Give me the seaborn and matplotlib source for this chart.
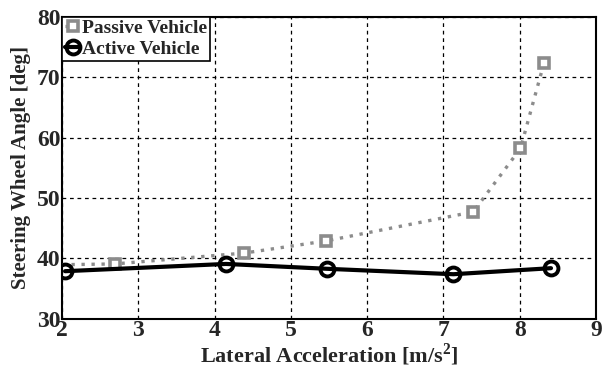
import matplotlib
matplotlib.use("Agg")
import matplotlib.pyplot as plt
import seaborn as sns
import pandas as pd

# Lateral acceleration [m/s^2] and steering wheel angle [deg]
passive_x = [1.6, 2.69, 4.39, 5.46, 7.39, 8.01, 8.32]
passive_y = [38.9, 39.1, 40.9, 42.9, 47.7, 58.2, 72.4]
active_x = [2.04, 4.15, 5.47, 7.13, 8.41]
active_y = [37.9, 39.1, 38.3, 37.4, 38.4]

x_ticks = [2, 3, 4, 5, 6, 7, 8, 9]
y_ticks = [30, 40, 50, 60, 70, 80]

sns.set_style("white")
plt.rcParams["font.family"] = ["Liberation Serif", "DejaVu Serif"]
plt.rcParams["font.weight"] = "bold"
plt.rcParams["mathtext.fontset"] = "custom"
plt.rcParams["mathtext.rm"] = "Liberation Serif:bold"

passive = pd.DataFrame({"x": passive_x, "y": passive_y})
active = pd.DataFrame({"x": active_x, "y": active_y})

fig = plt.figure(figsize=(6.06, 3.68), dpi=100)
ax = fig.add_axes([0.1023, 0.1332, 0.8812, 0.8218])

sns.lineplot(data=passive, x="x", y="y", ax=ax, color="#8c8c8c", linestyle=(0, (1, 2)),
             linewidth=2.4, marker="s", markersize=7, markerfacecolor="white",
             markeredgecolor="#8c8c8c", markeredgewidth=2.6, label="Passive Vehicle",
             sort=False, estimator=None, zorder=3)
sns.lineplot(data=active, x="x", y="y", ax=ax, color="black", linestyle="-",
             linewidth=3, marker="o", markersize=10, markerfacecolor="none",
             markeredgecolor="black", markeredgewidth=2.8, label="Active Vehicle",
             sort=False, estimator=None, zorder=4)

ax.set_xlim(2, 9)
ax.set_ylim(30, 80)
ax.set_xticks(x_ticks)
ax.set_yticks(y_ticks)
ax.tick_params(axis="both", labelsize=17, length=0, pad=1)
for lbl in ax.get_xticklabels() + ax.get_yticklabels():
    lbl.set_fontweight("bold")
ax.grid(True, color="black", linestyle=(0, (3, 3)), linewidth=0.9)
for s in ax.spines.values():
    s.set_color("black")
    s.set_linewidth(1.5)

ax.set_xlabel("Lateral Acceleration [m/s$^2$]", fontsize=16, fontweight="bold", labelpad=0)
ax.set_ylabel("Steering Wheel Angle [deg]", fontsize=15, fontweight="bold", labelpad=4)

leg = ax.legend(loc="upper left", bbox_to_anchor=(0.0, 1.0), frameon=True, fancybox=False,
                edgecolor="black", framealpha=1, borderpad=0.15, handlelength=0.8,
                handletextpad=0.1, labelspacing=0.15, borderaxespad=0,
                prop={"family": "Liberation Serif", "weight": "bold", "size": 14})
leg.get_frame().set_linewidth(1.2)

fig.savefig("out.png", dpi=100)
